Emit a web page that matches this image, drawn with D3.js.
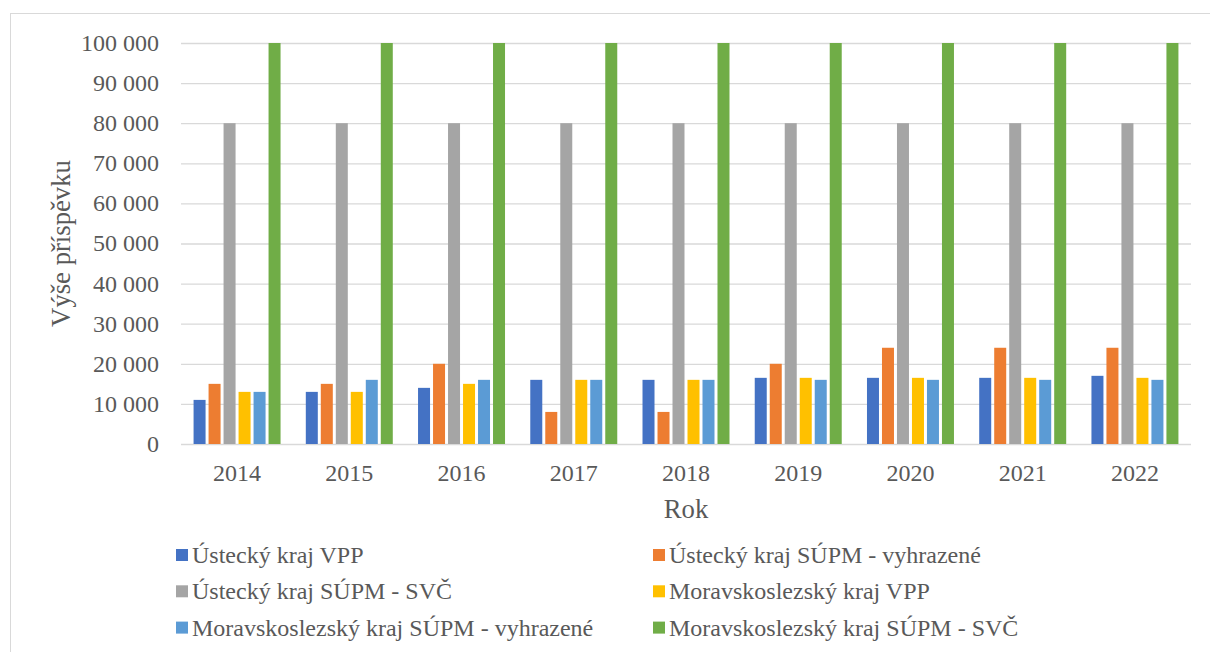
<!DOCTYPE html>
<html>
<head>
<meta charset="utf-8">
<script src="https://cdn.jsdelivr.net/npm/d3@7"></script>
<style>
  body { margin: 0; background: #fff; }
  text { font-family: "Liberation Serif", "Times New Roman", serif; fill: #595959; }
</style>
</head>
<body>
<svg width="1210" height="652"></svg>
<script>
var years = ["2014", "2015", "2016", "2017", "2018", "2019", "2020", "2021", "2022"];
var seriesNames = ["Ústecký kraj VPP", "Ústecký kraj SÚPM - vyhrazené", "Ústecký kraj SÚPM - SVČ",
  "Moravskoslezský kraj VPP", "Moravskoslezský kraj SÚPM - vyhrazené", "Moravskoslezský kraj SÚPM - SVČ"];
var colors = ["#4472c4", "#ed7d31", "#a5a5a5", "#ffc000", "#5b9bd5", "#70ad47"];

var usteckyVPP = [11000, 13000, 14000, 16000, 16000, 16500, 16500, 16500, 17000];
var usteckyVyhrazene = [15000, 15000, 20000, 8000, 8000, 20000, 24000, 24000, 24000];
var usteckySVC = [80000, 80000, 80000, 80000, 80000, 80000, 80000, 80000, 80000];
var moravVPP = [13000, 13000, 15000, 16000, 16000, 16500, 16500, 16500, 16500];
var moravVyhrazene = [13000, 16000, 16000, 16000, 16000, 16000, 16000, 16000, 16000];
var moravSVC = [100000, 100000, 100000, 100000, 100000, 100000, 100000, 100000, 100000];
var yTicks = [0, 10000, 20000, 30000, 40000, 50000, 60000, 70000, 80000, 90000, 100000];

var allSeries = [usteckyVPP, usteckyVyhrazene, usteckySVC, moravVPP, moravVyhrazene, moravSVC];

var svg = d3.select("svg");

// chart border
svg.append("rect")
    .attr("x", 10.5).attr("y", 13.5)
    .attr("width", 1220).attr("height", 700)
    .attr("fill", "none").attr("stroke", "#d9d9d9");

var plotLeft = 181, plotRight = 1191, plotTop = 43, plotBottom = 444;

var x = d3.scaleBand().domain(years).range([plotLeft, plotRight]).paddingInner(0.225).paddingOuter(0.112);
var x1 = d3.scaleBand().domain(d3.range(6)).range([0, x.bandwidth()]).paddingInner(0.2).paddingOuter(0);
var y = d3.scaleLinear().domain([0, 100000]).range([plotBottom, plotTop]);

var fmt = function(d) { return d3.format(",")(d).replace(/,/g, " "); };

// gridlines
svg.append("g").selectAll("line")
    .data(yTicks)
  .enter().append("line")
    .attr("x1", plotLeft).attr("x2", plotRight)
    .attr("y1", function(d) { return y(d) + 0.5; })
    .attr("y2", function(d) { return y(d) + 0.5; })
    .attr("stroke", "#d9d9d9")
    .attr("stroke-width", function(d) { return d === 0 ? 1.5 : 1.3; });

// y tick labels
svg.append("g").selectAll("text")
    .data(yTicks)
  .enter().append("text")
    .attr("x", 159)
    .attr("y", function(d) { return y(d); })
    .attr("dy", "0.33em")
    .attr("text-anchor", "end")
    .style("font-size", "24px")
    .text(fmt);

// bars
var groups = svg.append("g").selectAll("g")
    .data(years)
  .enter().append("g")
    .attr("transform", function(d) { return "translate(" + x(d) + ",0)"; });

groups.selectAll("rect")
    .data(function(d, i) { return allSeries.map(function(s, k) { return {k: k, v: s[i]}; }); })
  .enter().append("rect")
    .attr("x", function(d) { return x1(d.k); })
    .attr("width", x1.bandwidth())
    .attr("y", function(d) { return y(d.v); })
    .attr("height", function(d) { return plotBottom - y(d.v); })
    .attr("fill", function(d) { return colors[d.k]; });

// x labels
svg.append("g").selectAll("text")
    .data(years)
  .enter().append("text")
    .attr("x", function(d) { return x(d) + x.bandwidth() / 2; })
    .attr("y", 481)
    .attr("text-anchor", "middle")
    .style("font-size", "24px")
    .text(function(d) { return d; });

// axis titles
svg.append("text")
    .attr("x", 686).attr("y", 518)
    .attr("text-anchor", "middle")
    .style("font-size", "26.7px")
    .text("Rok");

svg.append("text")
    .attr("transform", "translate(70,243.5) rotate(-90)")
    .attr("text-anchor", "middle")
    .style("font-size", "26.7px")
    .text("Výše příspěvku");

// legend
var legend = svg.append("g").selectAll("g")
    .data(seriesNames)
  .enter().append("g")
    .attr("transform", function(d, i) {
      return "translate(" + (i % 2 === 0 ? 176 : 653) + "," + (555 + Math.floor(i / 2) * 36.3) + ")";
    });

legend.append("rect")
    .attr("x", 0).attr("y", -6)
    .attr("width", 12).attr("height", 12)
    .attr("fill", function(d, i) { return colors[i]; });

legend.append("text")
    .attr("x", 16).attr("y", 8)
    .style("font-size", "24px")
    .text(function(d) { return d; });
</script>
</body>
</html>
